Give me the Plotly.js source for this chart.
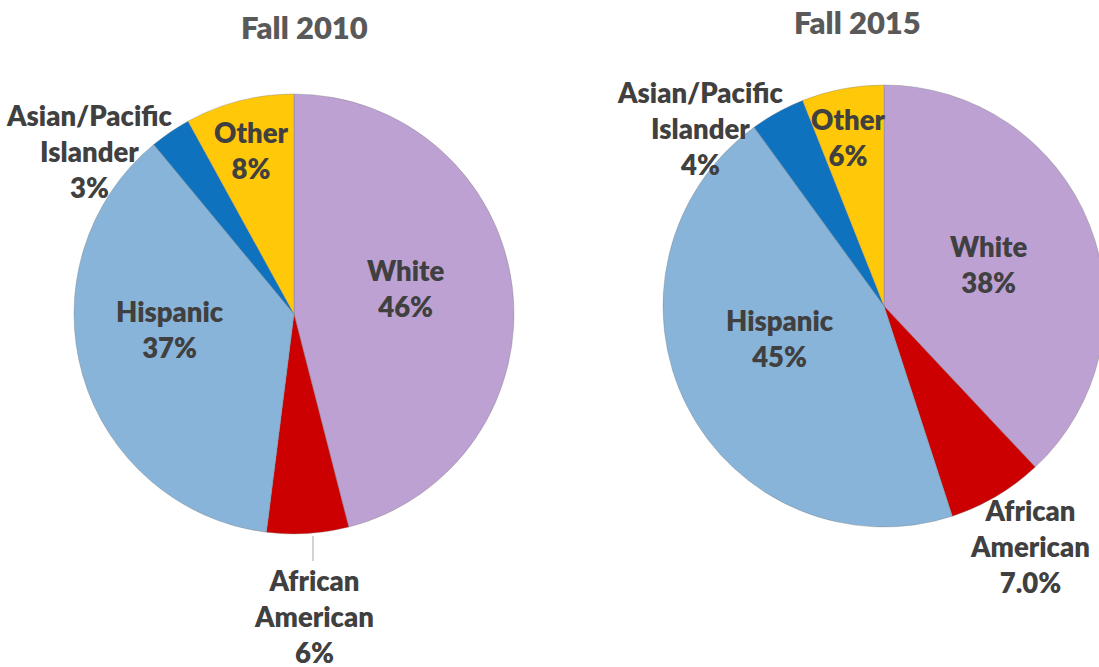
<!DOCTYPE html>
<html>
<head>
<meta charset="utf-8">
<script src="https://cdn.plot.ly/plotly-3.0.1.min.js"></script>
<style>
html, body { margin: 0; padding: 0; overflow: hidden; background: #ffffff; }
#chart { width: 1110px; height: 667px; }
</style>
</head>
<body>
<div id="chart"></div>
<script>
// ---- data ----
const categories = ['White', 'African American', 'Hispanic', 'Asian/Pacific Islander', 'Other'];
const values2010 = [46, 6, 37, 3, 8];
const values2015 = [38, 7.0, 45, 4, 6];
const pctText2010 = ['46%', '6%', '37%', '3%', '8%'];
const pctText2015 = ['38%', '7.0%', '45%', '4%', '6%'];
const titles = ['Fall 2010', 'Fall 2015'];
const sliceColors = ['#BDA1D3', '#CC0000', '#88B4D9', '#0F72BE', '#FFC808'];

// ---- layout helpers ----
const W = 1110, H = 667;
const px = x => x / W;
const py = y => 1 - y / H;
const labelText = (i, pct) => categories[i].replace(' ', '<br>') + '<br>' + pct[i];

function pie(values, dom) {
  return {
    type: 'pie',
    values: values,
    labels: categories,
    sort: false,
    direction: 'clockwise',
    rotation: 0,
    textinfo: 'none',
    hoverinfo: 'label+percent',
    marker: { colors: sliceColors, line: { color: 'rgba(120,120,120,0.35)', width: 1 } },
    domain: dom,
    showlegend: false
  };
}

const data = [
  pie(values2010, { x: [px(294 - 220), px(294 + 220)], y: [py(534), py(94)] }),
  pie(values2015, { x: [px(884 - 221), px(884 + 221)], y: [py(527), py(85)] })
];

const labelFont = { family: 'Lato, "Open Sans", sans-serif', size: 27.5, color: '#404040', weight: 800 };
const titleFont = { family: 'Lato, "Open Sans", sans-serif', size: 31, color: '#595959', weight: 800 };

// label centre positions (pixels)
const pos2010 = [[405, 288], [314, 616], [170, 330], [89, 152], [251, 150]];
const pos2015 = [[988, 264], [1030, 546], [780, 338], [700, 128], [848, 137]];

const annotations = [];
[[pctText2010, pos2010], [pctText2015, pos2015]].forEach(([pct, pos]) => {
  pos.forEach((p, i) => {
    annotations.push({
      xref: 'paper', yref: 'paper', x: px(p[0]), y: py(p[1]),
      xanchor: 'center', yanchor: 'middle', showarrow: false, align: 'center',
      text: labelText(i, pct), font: labelFont
    });
  });
});
[[304, 27], [857, 22]].forEach((p, i) => {
  annotations.push({
    xref: 'paper', yref: 'paper', x: px(p[0]), y: py(p[1]),
    xanchor: 'center', yanchor: 'middle', showarrow: false,
    text: titles[i], font: titleFont
  });
});

const layout = {
  width: W, height: H,
  margin: { l: 0, r: 0, t: 0, b: 0 },
  paper_bgcolor: '#ffffff',
  annotations: annotations,
  shapes: [{
    type: 'line', xref: 'paper', yref: 'paper',
    x0: px(313), x1: px(313), y0: py(536), y1: py(561),
    line: { color: '#A6A6A6', width: 1 }
  }]
};

Plotly.newPlot('chart', data, layout, { displayModeBar: false, staticPlot: true });
</script>
</body>
</html>
